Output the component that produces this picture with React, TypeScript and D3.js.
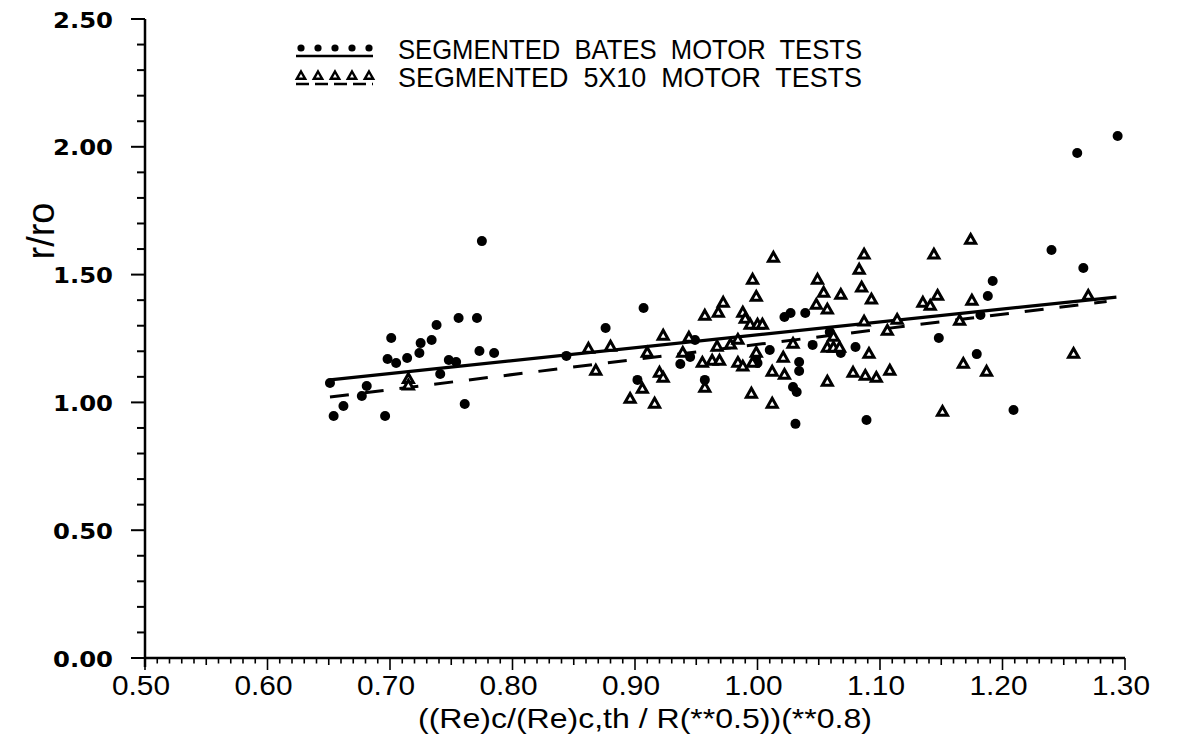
import React from 'react';
import * as d3 from 'd3';

// segmented BATES motor tests (filled dots)
const batesPoints: [number, number][] = [
    [0.651, 1.076], [0.654, 0.947], [0.662, 0.986], [0.681, 1.064], [0.677, 1.025],
    [0.696, 0.947], [0.701, 1.252], [0.698, 1.170], [0.705, 1.154], [0.714, 1.174],
    [0.724, 1.193], [0.725, 1.232], [0.734, 1.244], [0.738, 1.303], [0.741, 1.111],
    [0.748, 1.166], [0.754, 1.158], [0.756, 1.330], [0.771, 1.330], [0.761, 0.994],
    [0.773, 1.201], [0.785, 1.193], [0.775, 1.631], [0.844, 1.182], [0.876, 1.291],
    [0.907, 1.369], [0.902, 1.088], [0.937, 1.150], [0.945, 1.178], [0.949, 1.244],
    [0.957, 1.088], [0.999, 1.178], [1.000, 1.154], [1.010, 1.205], [1.022, 1.334],
    [1.027, 1.350], [1.039, 1.350], [1.059, 1.275], [1.045, 1.225], [1.068, 1.193],
    [1.080, 1.217], [1.034, 1.158], [1.034, 1.123], [1.029, 1.060], [1.032, 1.041],
    [1.031, 0.916], [1.089, 0.931], [1.148, 1.252], [1.240, 1.596], [1.266, 1.526],
    [1.192, 1.475], [1.188, 1.416], [1.179, 1.189], [1.209, 0.970], [1.294, 2.042],
    [1.261, 1.976], [1.182, 1.342],
];

// segmented 5X10 motor tests (open triangles)
const fiveByTenPoints: [number, number][] = [
    [0.715, 1.090], [0.715, 1.065],
    [0.862, 1.209], [0.880, 1.217], [0.868, 1.123], [0.923, 1.260], [0.944, 1.252],
    [0.910, 1.193], [0.906, 1.052], [0.896, 1.013], [0.916, 0.994], [0.920, 1.115],
    [0.923, 1.095], [0.939, 1.193], [0.957, 1.338], [0.968, 1.350], [0.972, 1.389],
    [0.996, 1.479], [0.999, 1.412], [0.988, 1.350], [0.990, 1.326], [0.994, 1.303],
    [1.000, 1.303], [1.004, 1.303], [0.967, 1.217], [0.978, 1.225], [0.984, 1.244],
    [0.955, 1.154], [0.963, 1.162], [0.969, 1.162], [0.984, 1.154], [0.988, 1.139],
    [0.996, 1.154], [0.957, 1.056], [0.995, 1.033], [0.999, 1.193], [1.013, 1.565],
    [1.087, 1.577], [1.144, 1.577], [1.083, 1.518], [1.085, 1.448], [1.049, 1.479],
    [1.054, 1.428], [1.068, 1.420], [1.048, 1.381], [1.057, 1.362], [1.093, 1.401],
    [1.135, 1.389], [1.141, 1.377], [1.147, 1.416], [1.087, 1.315], [1.114, 1.322],
    [1.106, 1.279], [1.062, 1.256], [1.029, 1.228], [1.057, 1.213], [1.062, 1.213],
    [1.067, 1.213], [1.091, 1.189], [1.021, 1.174], [1.022, 1.107], [1.012, 1.119],
    [1.057, 1.080], [1.078, 1.115], [1.088, 1.103], [1.097, 1.095], [1.108, 1.123],
    [1.151, 0.962], [1.012, 0.994], [1.174, 1.635], [1.175, 1.397], [1.270, 1.416],
    [1.165, 1.318], [1.168, 1.150], [1.187, 1.119], [1.258, 1.189],
];

// fitted lines, end points
const batesFit: [number, number][] = [[0.651, 1.088], [1.293, 1.412]];
const fiveByTenFit: [number, number][] = [[0.651, 1.021], [1.285, 1.395]];

const xTickValues = [0.5, 0.6, 0.7, 0.8, 0.9, 1.0, 1.1, 1.2, 1.3];
const yTickValues = [0, 0.5, 1.0, 1.5, 2.0, 2.5];
const legendLabels = ['SEGMENTED  BATES  MOTOR  TESTS', 'SEGMENTED  5X10  MOTOR  TESTS'];
const xTitle = '((Re)c/(Re)c,th / R(**0.5))(**0.8)';
const yTitle = 'r/ro';

const WIDTH = 1179;
const HEIGHT = 737;
const narrow = '"Liberation Sans Narrow", "Liberation Sans", Arial, sans-serif';
const sans = '"Liberation Sans", Arial, sans-serif';

const x = d3.scaleLinear([0.5, 1.3], [145, 1125]);
const y = d3.scaleLinear([0, 2.5], [658, 19]);

const triangle = 'M0,-5.6L5,3.2L-5,3.2Z';

export default function App() {
    const line = d3.line<[number, number]>()
        .x(d => x(d[0]))
        .y(d => y(d[1]));

    const yMinor = d3.range(0, 26).map(i => i / 10);
    const xMinor = d3.range(0, 81).map(i => 0.5 + i / 100);

    const legendXs = [301, 318, 335, 352, 369];

    return (
        <svg width={WIDTH} height={HEIGHT} viewBox={`0 0 ${WIDTH} ${HEIGHT}`}
            style={{ position: 'absolute', left: 0, top: 0, display: 'block', background: '#fff' }}>
            <rect width={WIDTH} height={HEIGHT} fill="#fff" />

            {/* y axis */}
            <line x1={x(0.5)} x2={x(0.5)} y1={y(2.5)} y2={y(0) + 9} stroke="#000" strokeWidth={2.5} />
            {yMinor.map((v, i) => (
                <line key={'ym' + i} x1={x(0.5) - (i % 5 === 0 ? 14 : 8)} x2={x(0.5)}
                    y1={y(v)} y2={y(v)} stroke="#000" strokeWidth={2} />
            ))}
            {yTickValues.map(v => (
                <text key={'yl' + v} x={113} y={y(v) + 8.5} textAnchor="end"
                    fontFamily='"DejaVu Sans", sans-serif' fontWeight="bold" fontSize={22}
                    textLength={60} lengthAdjust="spacingAndGlyphs">{v.toFixed(2)}</text>
            ))}
            <text transform={`translate(54,${231}) rotate(-90)`} textAnchor="middle"
                fontFamily={sans} fontSize={38}>{yTitle}</text>

            {/* x axis */}
            <line x1={x(0.5)} x2={x(1.3)} y1={y(0)} y2={y(0)} stroke="#000" strokeWidth={2.5} />
            {xMinor.map((v, i) => (
                <line key={'xm' + i} x1={x(v)} x2={x(v)} y1={y(0)}
                    y2={y(0) + (i % 10 === 0 ? 12 : i % 5 === 0 ? 7 : 5.5)} stroke="#000" strokeWidth={1.6} />
            ))}
            {xTickValues.map(v => (
                <text key={'xl' + v} x={x(v) - 4} y={695} textAnchor="middle"
                    fontFamily={sans} fontSize={28}
                    textLength={58} lengthAdjust="spacingAndGlyphs">{v.toFixed(2)}</text>
            ))}
            <text x={645} y={728} textAnchor="middle" fontFamily={narrow} fontSize={28}
                textLength={454} lengthAdjust="spacingAndGlyphs">{xTitle}</text>

            {/* fitted lines */}
            <path d={line(batesFit) || ''} fill="none" stroke="#000" strokeWidth={3.2} />
            <path d={line(fiveByTenFit) || ''} fill="none" stroke="#000" strokeWidth={3}
                strokeDasharray="19 16" />

            {/* data */}
            {batesPoints.map((d, i) => (
                <circle key={'b' + i} cx={x(d[0])} cy={y(d[1])} r={5} fill="#000" />
            ))}
            {fiveByTenPoints.map((d, i) => (
                <path key={'f' + i} d={triangle} transform={`translate(${x(d[0])},${y(d[1])})`}
                    fill="#fff" stroke="#000" strokeWidth={3} strokeLinejoin="miter" />
            ))}

            {/* legend */}
            <line x1={296} x2={373} y1={56} y2={56} stroke="#000" strokeWidth={2.5} />
            {legendXs.map((lx, i) => (
                <circle key={'lb' + i} cx={lx} cy={48} r={3.6} fill="#000" />
            ))}
            <line x1={296} x2={373} y1={84} y2={84} stroke="#000" strokeWidth={2.5} strokeDasharray="13 6" />
            {legendXs.map((lx, i) => (
                <path key={'lf' + i} d="M0,-4.5L4.2,2.8L-4.2,2.8Z" transform={`translate(${lx},${76})`}
                    fill="#fff" stroke="#000" strokeWidth={2.4} />
            ))}
            {legendLabels.map((t, i) => (
                <text key={'lt' + i} x={398} y={59 + i * 28} fontFamily={narrow} fontSize={28}
                    style={{ whiteSpace: 'pre' }}
                    textLength={464} lengthAdjust="spacingAndGlyphs">{t}</text>
            ))}
        </svg>
    );
}
